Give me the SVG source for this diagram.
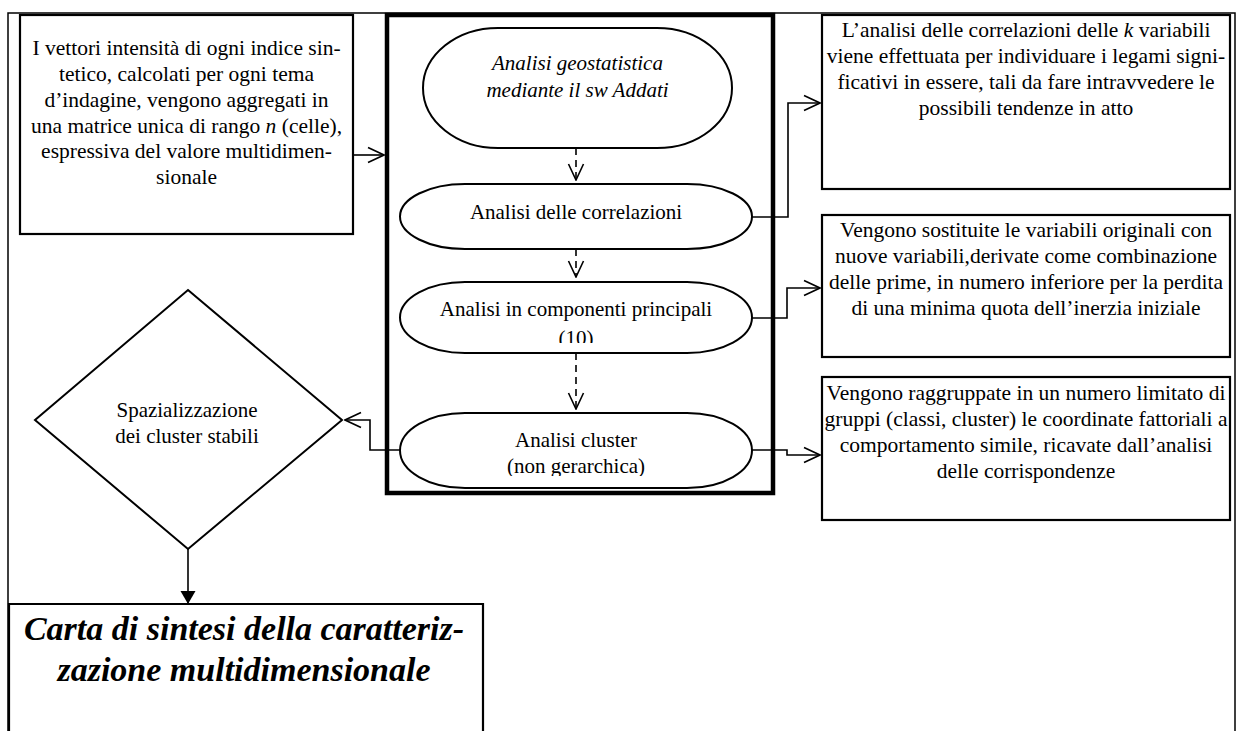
<svg xmlns="http://www.w3.org/2000/svg" width="1237" height="731" viewBox="0 0 1237 731">
<style>
text{font-family:'Liberation Serif','Times New Roman',serif;font-size:21.5px;fill:#000;text-anchor:middle}
.ov{font-size:21px}
.it{font-style:italic}
.big{font-size:34px;font-weight:bold;font-style:italic}
.box{fill:#fff;stroke:#000;stroke-width:2.2}
.thick{fill:none;stroke:#000;stroke-width:4.5}
.frame{fill:none;stroke:#000;stroke-width:1.5}
.oval{fill:#fff;stroke:#000;stroke-width:2}
.con{fill:none;stroke:#000;stroke-width:1.6}
.dash{stroke-dasharray:7 5}
</style>
<defs>
<marker id="open" viewBox="0 0 18 18" refX="17" refY="9" markerWidth="18" markerHeight="18" markerUnits="userSpaceOnUse" orient="auto">
<path d="M1,1.5 L17,9 L1,16.5" fill="none" stroke="#000" stroke-width="1.6" stroke-dasharray="none"/>
</marker>
<marker id="solid" viewBox="0 0 14 16" refX="13" refY="8" markerWidth="14" markerHeight="16" markerUnits="userSpaceOnUse" orient="auto">
<path d="M0,0.5 L13,8 L0,15.5 Z" fill="#000"/>
</marker>
<clipPath id="c3"><rect x="400" y="282" width="352" height="61"/></clipPath>
<clipPath id="c4"><rect x="400" y="413" width="352" height="63"/></clipPath>
</defs>

<g id="frame">
<path class="frame" d="M8,731 V13 H1235 V731"/>
</g>

<g id="input-box" font-family="'Liberation Serif', 'Times New Roman', serif">
<rect class="box" x="20" y="15" width="333" height="219"/>
<text x="186.5" y="55">I vettori intensità di ogni indice sin-</text>
<text x="186.5" y="81">tetico, calcolati per ogni tema</text>
<text x="186.5" y="107">d’indagine, vengono aggregati in</text>
<text x="186.5" y="133">una matrice unica di rango <tspan class="it">n</tspan> (celle),</text>
<text x="186.5" y="158">espressiva del valore multidimen-</text>
<text x="186.5" y="184">sionale</text>
</g>

<g id="process-box">
<rect class="thick" x="387" y="15" width="386" height="478"/>
</g>

<g id="geostat" font-family="'Liberation Serif', 'Times New Roman', serif">
<rect class="oval" x="423" y="28" width="309" height="120" rx="75" ry="60"/>
<text class="it ov" x="577.5" y="70">Analisi geostatistica</text>
<text class="it ov" x="577.5" y="97">mediante il sw Addati</text>
</g>

<g id="correlazioni" font-family="'Liberation Serif', 'Times New Roman', serif">
<rect class="oval" x="400" y="184" width="352" height="65" rx="65" ry="32.5"/>
<text class="ov" x="576" y="219">Analisi delle correlazioni</text>
</g>

<g id="componenti" font-family="'Liberation Serif', 'Times New Roman', serif">
<rect class="oval" x="400" y="282" width="352" height="71" rx="65" ry="35.5"/>
<g clip-path="url(#c3)">
<text class="ov" x="576" y="316">Analisi in componenti principali</text>
<text class="ov" x="576" y="345">(10)</text>
</g>
</g>

<g id="cluster" font-family="'Liberation Serif', 'Times New Roman', serif">
<rect class="oval" x="400" y="413" width="352" height="75" rx="65" ry="37.5"/>
<g clip-path="url(#c4)">
<text class="ov" x="576" y="447">Analisi cluster</text>
<text class="ov" x="576" y="473">(non gerarchica)</text>
</g>
</g>

<g id="desc-correlazioni" font-family="'Liberation Serif', 'Times New Roman', serif">
<rect class="box" x="822" y="15" width="408" height="174"/>
<text x="1026" y="37">L’analisi delle correlazioni delle <tspan class="it">k</tspan> variabili</text>
<text x="1026" y="63">viene effettuata per individuare i legami signi-</text>
<text x="1026" y="89">ficativi in essere, tali da fare intravvedere le</text>
<text x="1026" y="115">possibili tendenze in atto</text>
</g>

<g id="desc-componenti" font-family="'Liberation Serif', 'Times New Roman', serif">
<rect class="box" x="822" y="215" width="408" height="142"/>
<text x="1026" y="237">Vengono sostituite le variabili originali con</text>
<text x="1026" y="263">nuove variabili,derivate come combinazione</text>
<text x="1026" y="289">delle prime, in numero inferiore per la perdita</text>
<text x="1026" y="315">di una minima quota dell’inerzia iniziale</text>
</g>

<g id="desc-cluster" font-family="'Liberation Serif', 'Times New Roman', serif">
<rect class="box" x="822" y="377" width="408" height="143"/>
<text x="1026" y="400">Vengono raggruppate in un numero limitato di</text>
<text x="1026" y="426">gruppi (classi, cluster) le coordinate fattoriali a</text>
<text x="1026" y="452">comportamento simile, ricavate dall’analisi</text>
<text x="1026" y="478">delle corrispondenze</text>
</g>

<g id="spazializzazione" font-family="'Liberation Serif', 'Times New Roman', serif">
<polygon class="oval" points="188,290 342,420 188,549 35,420"/>
<text class="ov" x="187" y="417">Spazializzazione</text>
<text class="ov" x="187" y="443">dei cluster stabili</text>
</g>

<g id="carta" font-family="'Liberation Serif', 'Times New Roman', serif">
<path class="box" d="M9,731 V604 H483 V731"/>
<text class="big" x="244" y="640">Carta di sintesi della caratteriz-</text>
<text class="big" x="244" y="681">zazione multidimensionale</text>
</g>

<g id="connectors">
<path class="con" d="M353,155 H384" marker-end="url(#open)"/>
<path class="con dash" d="M576,148 V180" marker-end="url(#open)"/>
<path class="con dash" d="M576,249 V277" marker-end="url(#open)"/>
<path class="con dash" d="M576,353 V409" marker-end="url(#open)"/>
<path class="con" d="M752,217 H788 V103 H820" marker-end="url(#open)"/>
<path class="con" d="M752,318 H787 V288 H820" marker-end="url(#open)"/>
<path class="con" d="M752,450 H787 V455 H820" marker-end="url(#open)"/>
<path class="con" d="M400,450 H370 V420 H345" marker-end="url(#open)"/>
<path class="con" d="M188,549 V604" marker-end="url(#solid)"/>
</g>
</svg>
